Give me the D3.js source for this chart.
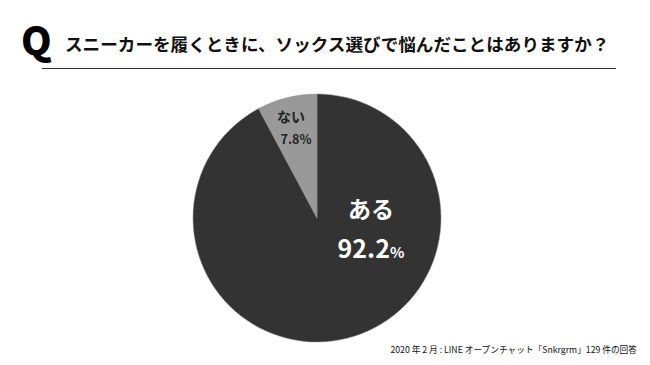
<!DOCTYPE html>
<html>
<head>
<meta charset="utf-8">
<script src="https://cdn.jsdelivr.net/npm/d3@7"></script>
<style>
  body { margin: 0; background: #fff; }
  text { font-family: "Noto Sans CJK JP", "Noto Sans", sans-serif; }
</style>
</head>
<body>
<svg id="chart"></svg>
<script>
// Data
const labels = ["ある", "ない"];
const values = [92.2, 7.8];
const colors = ["#333333", "#999999"];

const width = 650, height = 365;
const svg = d3.select("#chart").attr("width", width).attr("height", height);

// Title
svg.append("text")
  .attr("x", 21).attr("y", 55)
  .attr("font-family", "'Noto Sans', sans-serif")
  .attr("font-size", 39).attr("font-weight", 900)
  .attr("fill", "#000")
  .text("Q");

svg.append("text")
  .attr("x", 65).attr("y", 51)
  .attr("font-size", 17.6).attr("font-weight", "bold")
  .attr("fill", "#111")
  .text("スニーカーを履くときに、ソックス選びで悩んだことはありますか？");

svg.append("line")
  .attr("x1", 42).attr("x2", 616)
  .attr("y1", 68.5).attr("y2", 68.5)
  .attr("stroke", "#333").attr("stroke-width", 1);

// Pie
const cx = 317, cy = 218, r = 124;
const g = svg.append("g").attr("transform", `translate(${cx},${cy})`);

const pie = d3.pie().sort(null).value((d) => d)(values);
const arc = d3.arc().innerRadius(0).outerRadius(r);

g.selectAll("path")
  .data(pie)
  .enter()
  .append("path")
  .attr("d", arc)
  .attr("fill", (d, i) => colors[i])
  .attr("stroke", "#888")
  .attr("stroke-width", 0.5);

// Labels
const big = g.append("text")
  .attr("text-anchor", "middle")
  .attr("fill", "#fff")
  .attr("font-weight", "bold");
big.append("tspan").attr("x", 54).attr("y", 0).attr("font-size", 23).text(labels[0]);
const pctBig = big.append("tspan").attr("x", 54).attr("y", 40).attr("font-size", 25);
pctBig.append("tspan").text(values[0].toFixed(1));
pctBig.append("tspan").attr("font-size", 15).text("%");

const small = g.append("text")
  .attr("text-anchor", "middle")
  .attr("fill", "#222")
  .attr("font-weight", "bold");
small.append("tspan").attr("x", -26).attr("y", -96).attr("font-size", 14).text(labels[1]);
small.append("tspan").attr("x", -21).attr("y", -74).attr("font-size", 12.5).text(values[1].toFixed(1) + "%");

// Source
svg.append("text")
  .attr("x", 637).attr("y", 353)
  .attr("text-anchor", "end")
  .attr("font-size", 8.7)
  .attr("fill", "#111")
  .text("2020 年 2 月 : LINE オープンチャット「Snkrgrm」129 件の回答");
</script>
</body>
</html>
